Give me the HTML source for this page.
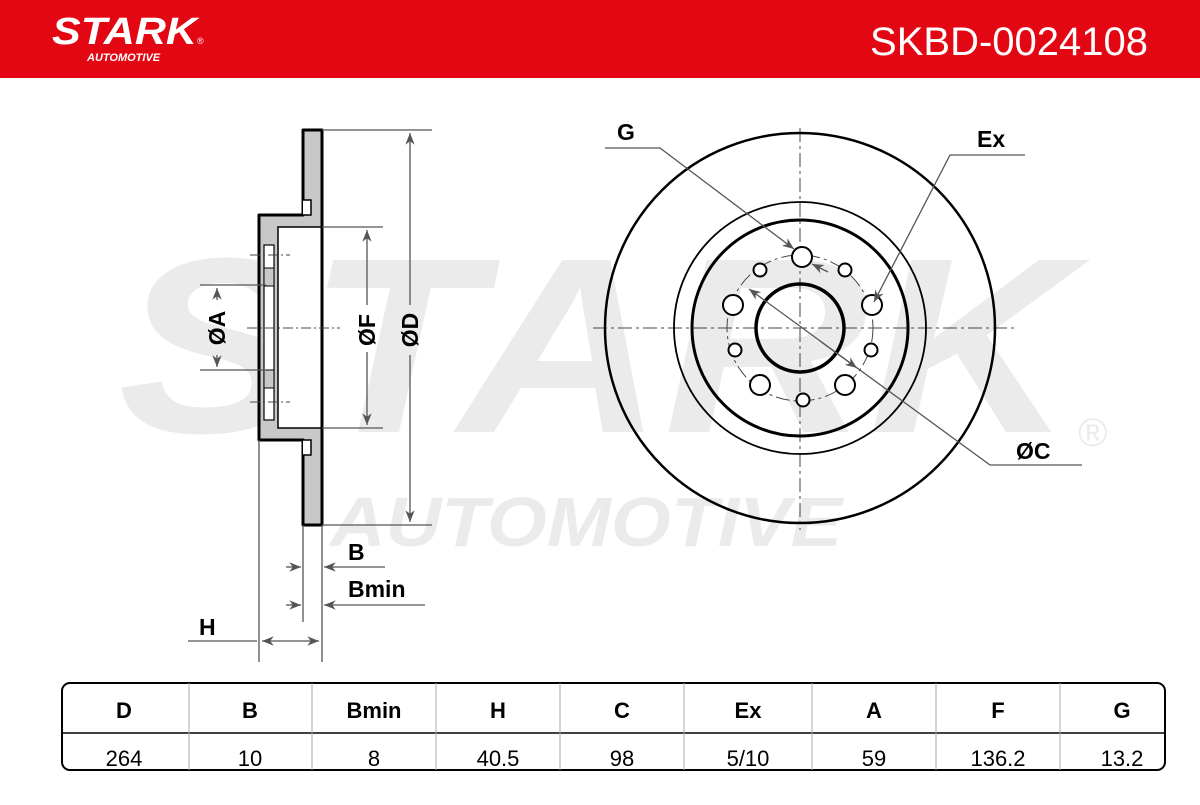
<!DOCTYPE html>
<html><head><meta charset="utf-8"><style>
body{margin:0;width:1200px;height:800px;background:#fff;overflow:hidden;font-family:"Liberation Sans",Arial,sans-serif}
</style></head><body>
<svg width="1200" height="800" viewBox="0 0 1200 800" xmlns="http://www.w3.org/2000/svg" font-family="Liberation Sans, Arial, sans-serif">
<defs>
<marker id="ar" viewBox="0 0 10 10" refX="10" refY="5" markerWidth="9" markerHeight="9" orient="auto-start-reverse"><path d="M0,1 L10,5 L0,9 L3,5 z" fill="#555"/></marker>
</defs>
<rect x="0" y="0" width="1200" height="78" fill="#e30613"/>
<text x="52" y="44" font-size="38" font-weight="bold" font-style="italic" fill="#fff" textLength="145" lengthAdjust="spacingAndGlyphs">STARK</text>
<text x="197" y="44" font-size="9" fill="#fff">®</text>
<text x="87" y="61" font-size="11" font-weight="bold" font-style="italic" fill="#fff">AUTOMOTIVE</text>
<text x="1148" y="55" font-size="40" fill="#fff" text-anchor="end">SKBD-0024108</text>
<!-- watermark -->
<text x="118" y="432" font-size="250" font-weight="bold" font-style="italic" fill="#ebebeb" textLength="955" lengthAdjust="spacingAndGlyphs">STARK</text>
<text x="1078" y="446" font-size="40" fill="#ebebeb">®</text>
<text x="330" y="546" font-size="70" font-weight="bold" font-style="italic" fill="#ebebeb" textLength="512" lengthAdjust="spacingAndGlyphs">AUTOMOTIVE</text>

<!-- side view -->
<g stroke="#000" stroke-width="3" fill="#c8c8c8" stroke-linejoin="round">
<path d="M303,130 H322 V525 H303 V440 H259 V215 H303 Z"/>
</g>
<rect x="278" y="227" width="44" height="201" fill="#fff" stroke="#000" stroke-width="1.5"/>
<line x1="322" y1="130" x2="322" y2="525" stroke="#000" stroke-width="3"/>
<path d="M303,200 h8 v15 h-8 M303,455 h8 v-15 h-8" fill="#fff" stroke="#000" stroke-width="1.5"/>
<rect x="264" y="245" width="10" height="175" fill="#fff" stroke="#000" stroke-width="1.2"/>
<rect x="264" y="268" width="10" height="18" fill="#c8c8c8" stroke="#000" stroke-width="1"/>
<rect x="264" y="370" width="10" height="18" fill="#c8c8c8" stroke="#000" stroke-width="1"/>
<g stroke="#444" stroke-width="1" stroke-dasharray="10,3,2,3" fill="none">
<line x1="247" y1="328" x2="340" y2="328"/>
<line x1="250" y1="255" x2="290" y2="255"/>
<line x1="250" y1="402" x2="290" y2="402"/>
</g>
<g stroke="#555" stroke-width="1.3" fill="none">
<line x1="322" y1="130" x2="432" y2="130"/><line x1="322" y1="525" x2="432" y2="525"/>
<line x1="410" y1="133" x2="410" y2="305" marker-start="url(#ar)"/><line x1="410" y1="355" x2="410" y2="522" marker-end="url(#ar)"/>
<line x1="322" y1="227" x2="383" y2="227"/><line x1="322" y1="428" x2="383" y2="428"/>
<line x1="367" y1="230" x2="367" y2="305" marker-start="url(#ar)"/><line x1="367" y1="352" x2="367" y2="425" marker-end="url(#ar)"/>
<line x1="200" y1="285" x2="266" y2="285"/><line x1="200" y1="370" x2="266" y2="370"/>
<line x1="217" y1="300" x2="217" y2="288" marker-end="url(#ar)"/><line x1="217" y1="355" x2="217" y2="367" marker-end="url(#ar)"/>
<line x1="259" y1="440" x2="259" y2="662"/><line x1="303" y1="525" x2="303" y2="622"/><line x1="322" y1="525" x2="322" y2="662"/>
<line x1="286" y1="567" x2="301" y2="567" marker-end="url(#ar)"/><line x1="385" y1="567" x2="324" y2="567" marker-end="url(#ar)"/>
<line x1="286" y1="605" x2="301" y2="605" marker-end="url(#ar)"/><line x1="425" y1="605" x2="324" y2="605" marker-end="url(#ar)"/>
<line x1="188" y1="641" x2="257" y2="641"/><line x1="262" y1="641" x2="319" y2="641" marker-start="url(#ar)" marker-end="url(#ar)"/>
</g>
<g font-size="23" font-weight="bold" fill="#000">
<text transform="translate(418,330) rotate(-90)" text-anchor="middle">ØD</text>
<text transform="translate(375,330) rotate(-90)" text-anchor="middle">ØF</text>
<text transform="translate(225,328) rotate(-90)" text-anchor="middle">ØA</text>
<text x="348" y="560">B</text>
<text x="348" y="597">Bmin</text>
<text x="199" y="635">H</text>
<text x="617" y="140">G</text>
<text x="977" y="147">Ex</text>
<text x="1016" y="459">ØC</text>
</g>

<!-- front view -->
<g stroke="#444" stroke-width="1" stroke-dasharray="14,4,3,4" fill="none">
<line x1="593" y1="328" x2="1015" y2="328"/>
<line x1="800" y1="128" x2="800" y2="530"/>
<circle cx="800" cy="328" r="73"/>
</g>
<g fill="none" stroke="#000">
<circle cx="800" cy="328" r="195" stroke-width="2.5"/>
<circle cx="800" cy="328" r="126" stroke-width="1.8"/>
<circle cx="800" cy="328" r="108" stroke-width="3"/>
<circle cx="800" cy="328" r="44" stroke-width="3.5"/>
<g stroke-width="2" fill="#fff">
<circle cx="802" cy="257" r="10"/><circle cx="733" cy="305" r="10"/><circle cx="872" cy="305" r="10"/>
<circle cx="760" cy="385" r="10"/><circle cx="845" cy="385" r="10"/>
<circle cx="760" cy="270" r="6.5"/><circle cx="845" cy="270" r="6.5"/><circle cx="735" cy="350" r="6.5"/>
<circle cx="871" cy="350" r="6.5"/><circle cx="803" cy="400" r="6.5"/>
</g>
</g>
<g stroke="#555" stroke-width="1.3" fill="none">
<path d="M605,148 H660 L794,249" marker-end="url(#ar)"/>
<line x1="828" y1="272" x2="812" y2="264" marker-end="url(#ar)"/>
<path d="M1025,155 H950 L874,302" marker-end="url(#ar)"/>
<path d="M1082,465 H990 L749,289" marker-end="url(#ar)"/>
<line x1="820" y1="341" x2="857" y2="368" marker-end="url(#ar)"/>
</g>

<!-- table -->
<rect x="62" y="683" width="1103" height="87" rx="8" fill="#fff" stroke="#000" stroke-width="2"/>
<line x1="62" y1="733" x2="1165" y2="733" stroke="#000" stroke-width="1.5"/>
<g stroke="#aaa" stroke-width="1">
<line x1="189" y1="683" x2="189" y2="770"/><line x1="312" y1="683" x2="312" y2="770"/><line x1="436" y1="683" x2="436" y2="770"/>
<line x1="560" y1="683" x2="560" y2="770"/><line x1="684" y1="683" x2="684" y2="770"/><line x1="812" y1="683" x2="812" y2="770"/>
<line x1="936" y1="683" x2="936" y2="770"/><line x1="1060" y1="683" x2="1060" y2="770"/>
</g>
<g font-size="22" text-anchor="middle" fill="#000">
<g font-weight="bold">
<text x="124" y="718">D</text><text x="250" y="718">B</text><text x="374" y="718">Bmin</text><text x="498" y="718">H</text>
<text x="622" y="718">C</text><text x="748" y="718">Ex</text><text x="874" y="718">A</text><text x="998" y="718">F</text><text x="1122" y="718">G</text>
</g>
<text x="124" y="766">264</text><text x="250" y="766">10</text><text x="374" y="766">8</text><text x="498" y="766">40.5</text>
<text x="622" y="766">98</text><text x="748" y="766">5/10</text><text x="874" y="766">59</text><text x="998" y="766">136.2</text><text x="1122" y="766">13.2</text>
</g>
</svg>
</body></html>
